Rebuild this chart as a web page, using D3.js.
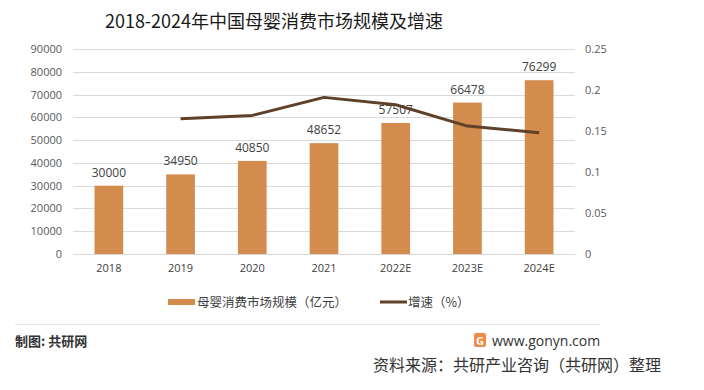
<!DOCTYPE html>
<html><head><meta charset="utf-8">
<script src="https://cdn.jsdelivr.net/npm/d3@7"></script>
<style>
body{margin:0;background:#fff;}
svg{display:block;font-family:"Microsoft YaHei","Noto Sans CJK SC",sans-serif;}
</style></head>
<body>
<svg id="c" width="704" height="390"></svg>
<script>
const categories = ["2018","2019","2020","2021","2022E","2023E","2024E"];
const marketSize = [30000,34950,40850,48652,57507,66478,76299];
const growthYears = ["2019","2020","2021","2022E","2023E","2024E"];
const growthRate = [0.165,0.169,0.191,0.182,0.156,0.148];
const leftTicks = [0,10000,20000,30000,40000,50000,60000,70000,80000,90000];
const rightTicks = [0,0.05,0.1,0.15,0.2,0.25];

const svg = d3.select("#c");
const W=704,H=390;
const plot = {l:73,r:575,t:49,b:254};
const barColor="#d38b4e", lineColor="#5e4128";
const cjk='"Noto Sans CJK SC",sans-serif';
const lat='"Open Sans","Liberation Sans",sans-serif';

svg.append("rect").attr("width",W).attr("height",H).attr("fill","#fff");

const x = d3.scaleBand().domain(categories).range([plot.l,plot.r]).paddingInner(0.6).paddingOuter(0.3);
const xc = d => x(d)+x.bandwidth()/2;
const yL = d3.scaleLinear().domain([0,90000]).range([plot.b,plot.t]);
const yR = d3.scaleLinear().domain([0,0.25]).range([plot.b,plot.t]);

// title
svg.append("text").attr("x",274).attr("y",28).attr("text-anchor","middle")
  .attr("font-family",cjk).attr("font-size",18).attr("font-weight",400).attr("fill","#1a1a1a")
  .text("2018-2024年中国母婴消费市场规模及增速");

// gridlines
svg.append("g").selectAll("line").data(leftTicks).join("line")
  .attr("x1",plot.l).attr("x2",plot.r)
  .attr("y1",d=>Math.round(yL(d))+0.5).attr("y2",d=>Math.round(yL(d))+0.5)
  .attr("stroke","#d9d9d9").attr("stroke-width",1);

// left axis
const gl = svg.append("g").attr("transform",`translate(${plot.l},0)`)
  .call(d3.axisLeft(yL).tickValues(leftTicks).tickSize(0).tickPadding(11).tickFormat(d3.format("d")));
gl.select(".domain").remove();
gl.selectAll("text").attr("font-family",lat).attr("font-size",11).attr("fill","#595959");

// right axis
const gr = svg.append("g").attr("transform",`translate(${plot.r},0)`)
  .call(d3.axisRight(yR).tickValues(rightTicks).tickSize(0).tickPadding(10).tickFormat(d=>String(d)));
gr.select(".domain").remove();
gr.selectAll("text").attr("font-family",lat).attr("font-size",11).attr("fill","#595959");

// bars
svg.append("g").selectAll("rect").data(marketSize).join("rect")
  .attr("x",(d,i)=>x(categories[i])).attr("width",x.bandwidth())
  .attr("y",d=>yL(d)).attr("height",d=>plot.b-yL(d)).attr("fill",barColor);

// x axis
const gx = svg.append("g").attr("transform",`translate(0,${plot.b})`)
  .call(d3.axisBottom(x).tickSize(0).tickPadding(10));
gx.select(".domain").attr("stroke","#d9d9d9");
gx.selectAll("text").attr("font-family",lat).attr("font-size",11).attr("fill","#404040");

// bar labels
svg.append("g").selectAll("text").data(marketSize).join("text")
  .attr("x",(d,i)=>xc(categories[i])).attr("y",d=>yL(d)-9)
  .attr("text-anchor","middle").attr("font-family",lat).attr("font-size",12).attr("fill","#404040")
  .text(d=>d);

// line
const line = d3.line().x((d,i)=>xc(growthYears[i])).y(d=>yR(d));
svg.append("path").datum(growthRate).attr("d",line)
  .attr("fill","none").attr("stroke",lineColor).attr("stroke-width",3).attr("stroke-linejoin","round");

// legend
const lg = svg.append("g");
lg.append("rect").attr("x",168).attr("y",299).attr("width",27).attr("height",6).attr("fill",barColor);
lg.append("text").attr("x",197).attr("y",306.5).attr("font-family",cjk).attr("font-size",12.5).attr("fill","#404040")
  .text("母婴消费市场规模（亿元）");
lg.append("line").attr("x1",380).attr("x2",407).attr("y1",302).attr("y2",302).attr("stroke",lineColor).attr("stroke-width",3);
lg.append("text").attr("x",408).attr("y",306.5).attr("font-family",cjk).attr("font-size",12.5).attr("fill","#404040")
  .text("增速（%）");

// footer
svg.append("line").attr("x1",15).attr("x2",600).attr("y1",324.5).attr("y2",324.5).attr("stroke","#e6e6e6");
svg.append("text").attr("x",15).attr("y",346).attr("font-family",cjk).attr("font-size",13).attr("font-weight","bold").attr("fill","#333")
  .text("制图: 共研网");
// logo
const lo = svg.append("g").attr("transform","translate(474,333)");
lo.append("rect").attr("width",12).attr("height",14).attr("rx",2).attr("fill","#f08a45");
lo.append("text").attr("x",6).attr("y",11.5).attr("text-anchor","middle").attr("font-family",lat).attr("font-size",11).attr("font-weight","bold").attr("fill","#fff").text("G");
svg.append("text").attr("x",492).attr("y",346).attr("font-family",lat).attr("font-size",14).attr("fill","#333")
  .text("www.gonyn.com");
svg.append("text").attr("x",373).attr("y",371).attr("font-family",cjk).attr("font-size",16).attr("fill","#333")
  .text("资料来源：共研产业咨询（共研网）整理");
</script>
</body></html>
